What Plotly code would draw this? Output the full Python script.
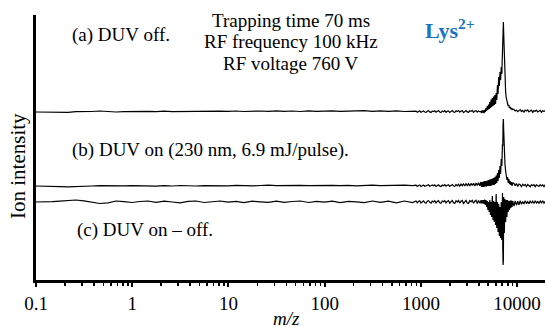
import plotly.graph_objects as go

# ---------------- data ----------------
# m/z sampling points (log axis)
mz_values = [
    # low m/z region
    0.1, 0.12, 0.147, 0.177, 0.215, 0.26, 0.315, 0.38, 0.46, 0.56,
    0.68, 0.82, 1.0, 1.2, 1.46, 1.77, 2.15, 2.6, 3.15, 3.8,
    4.6, 5.6, 6.8, 8.2, 9.9, 12, 14.5, 17.7, 21.4, 26,
    31.5, 38, 46, 56, 68, 82, 99, 120, 145, 176,
    213, 258, 313, 379, 460, 557, 675, 818,
    # mid region
    890, 917, 945, 974, 1003, 1034, 1065, 1097, 1131, 1165,
    1200, 1237, 1274, 1313, 1353, 1394, 1436, 1480, 1525, 1571,
    1619, 1668, 1719, 1771, 1825, 1880, 1937, 1996, 2057, 2119,
    2184, 2250, 2318, 2389, 2461, 2536, 2613, 2693, 2774, 2859,
    2946, 3035, 3127, 3222, 3320, 3421, 3525, 3632, 3743, 3856,
    3974, 4095,
    # Lys2+ peak region
    4200, 4270, 4330, 4400, 4470, 4540, 4610, 4680, 4750, 4820,
    4900, 4970, 5050, 5130, 5210, 5290, 5370, 5450, 5530, 5620,
    5700, 5790, 5880, 5970, 6060, 6150, 6250, 6340, 6440, 6540,
    6640, 6740, 6840, 6940, 7050, 7100, 7150, 7200, 7260, 7370,
    7480, 7600, 7720, 7840, 7960, 8080, 8210, 8340, 8470, 8600,
    8730, 8870, 9000,
    # tail
    9274, 9556, 9847, 10146, 10455, 10773, 11100, 11438, 11786, 12144,
    12513, 12894, 13286, 13690, 14106, 14535, 14977, 15433, 15902, 16386,
    16884, 17397, 17926, 18471, 19033, 19612, 20208,
]

# (a) DUV off
spec_a = [
    0, -0.2, 0.2, 0, -0.3, 0.3, 0.2, 0.5, 1, 0.3,
    0, 0.3, 0.5, 0.2, 0.6, 0.3, 0.8, 0.4, 0.5, 0.9,
    0.4, 0.7, 0.5, 0.9, 0.6, 1, 0.5, 0.8, 1, 0.6,
    1.1, 0.7, 1, 0.5, 1.2, 0.7, 0.9, 1.2, 0.6, 1,
    0.8, 1.3, 0.7, 1.1, 0.6, 1.2, 0.5, 1.1,
    0.9, -0.2, 0.6, 1.2, -0.3, 0.5, 1.1, 0, -0.4, 0.8,
    1.3, 0.1, -0.5, 0.9, 0.4, 1.2, -0.2, 0.7, 1.4, 0,
    -0.6, 1, 0.3, 1.3, -0.3, 0.8, 1.1, -0.5, 0.6, 1.4,
    0, -0.4, 1.2, 0.5, 1.5, -0.2, 0.9, 1.3, -0.6, 0.7,
    1.5, 0.1, -0.4, 1.2, 0.6, 1.6, -0.3, 1, 1.4, -0.2,
    1.1, 0.3,
    0.5, -1, 1.5, -0.5, 1.5, -1, 2, 0, 4, 1,
    6, 2, 7.5, 3, 10, 4, 12.5, 5, 14, 6,
    15.5, 7, 17, 8, 19, 12, 27, 18, 35, 26,
    40, 32, 45, 38, 62, 55, 88, 90, 78, 50,
    28, 20, 14, 10, 9, 6, 7, 4, 5, 3,
    4, 2, 3,
    2.5, 1, 2, 0.3, 1.8, 2.4, 0.5, 1.6, -0.2, 1.9,
    1, 2.1, 0.2, 1.5, 1.9, -0.3, 1.4, 0.8, 1.8, 0,
    1.3, 1.7, -0.2, 1.2, 0.6, 1.5, 0.2,
]

# (b) DUV on (230 nm, 6.9 mJ/pulse)
spec_b = [
    0, 0, -0.3, -0.6, -0.8, -0.3, 0.2, 0, 0.3, 0.1,
    -0.2, 0.2, 0.4, 0, 0.3, -0.2, 0.4, 0, 0.5, 0.2,
    0, 0.4, 0.1, 0.5, 0.2, 0.6, 0.3, 0.1, 0.5, 0.8,
    0.3, 0.6, 0.2, 0.7, 0.3, 0.5, 0, 0.6, 0.3, 0.7,
    0.2, 0.5, 0.9, 0.4, 0.6, 0.2, 0.8, 0.4,
    0.8, -0.3, 0.5, 1.1, -0.4, 0.6, 1, -0.2, 0.3, 0.9,
    1.2, -0.3, 0.4, 1, 0.2, 1.1, -0.4, 0.7, 1.2, -0.1,
    -0.5, 0.9, 0.3, 1.3, -0.2, 0.8, 1.2, -0.4, 0.6, 1.4,
    0, -0.3, 1.5, 0.2, 1.7, -0.2, 1.9, 0.3, 2.1, 0,
    2.3, 0.4, 2.4, 0.1, 2.6, 0.5, 2.8, 0, 3, 0.4,
    3.3, 0.2,
    4, -1, 4, -1, 4.5, -1, 5, -0.5, 5, -0.5,
    5.5, 0, 6, 0, 6.5, 0, 7, 0.5, 7.5, 1,
    8, 1, 9, 2, 10.5, 3, 13, 5, 16, 8,
    20, 12, 27, 20, 42, 40, 62, 67, 55, 32,
    22, 15, 12, 6, 9, 3, 7, 2, 5, 1,
    4, 0, 3,
    2.8, 0.2, 2.4, -0.4, 2, 1.2, -0.6, 1.8, 0.4, 1.6,
    -0.5, 1.5, 0.8, -0.7, 1.4, 0.2, 1.3, -0.6, 1.2, 0.5,
    -0.4, 1.3, 0, 1.1, -0.6, 1.2, 0,
]

# (c) DUV on - off
spec_c = [
    0, 0, 0.3, 0.8, 1.5, 2, 1.2, -0.5, -1.5, -0.8,
    1, 0.3, -0.5, 0.5, 1, -0.3, 0.8, 0, -0.8, 0.6,
    1, -0.5, 0.4, 1, -0.2, 0.6, -0.6, 0.8, 0.2, -0.4,
    0.9, -0.3, 0.5, 1, -0.5, 0.7, -0.2, 0.9, -0.6, 0.6,
    0.2, -0.7, 1, -0.4, 0.8, -0.8, 1, -0.6,
    1, -0.8, 0.4, 1.2, -1, 0.2, 1.1, -0.6, -1.2, 0.8,
    1.3, -0.4, -1.1, 0.9, 0.1, 1.2, -1, 0.5, 1.4, -0.7,
    -1.3, 1, 0.2, 1.3, -0.9, 0.6, 1.4, -1.2, 0.3, 1.5,
    -0.8, -1.4, 1.3, 0, 1.6, -1.1, 0.7, 1.5, -1.5, 0.4,
    1.6, -1, -1.5, 1.4, 0.2, 1.7, -1.3, 0.8, 1.8, -1.6,
    1.5, -1.2,
    1.5, -1.5, 2, -1.5, 2, -2, 2.5, -3, 2, -5,
    1, -8, 0, -10, 2, -13, 0, -15, 6, -18,
    1, -20, 0, -23, 8, -26, 0, -30, -2, -34,
    -5, -36, 0, -38, 9, -46, -63, -58, 5, -31,
    3, -20, 2, -15, 2, -10, 1, -8, 1.5, -6,
    1.5, -5, 1,
    -4, 1, -3.2, 0.8, -2.8, 1.2, -2.2, 0.6, -2, 1.3,
    -1.6, 0.4, -1.8, 1.2, -1.2, 0.8, -1.5, 1.3, -1, 0.5,
    -1.4, 1.1, -0.8, 1.2, -1.2, 0.6, -0.9,
]

# vertical stacking offsets of the three spectra
offsets = {"a": 168, "b": 94, "c": 78}

tick_values = [0.1, 1, 10, 100, 1000, 10000]
tick_labels = ["0.1", "1", "10", "100", "1000", "10000"]

# ---------------- figure ----------------
W, H = 545, 327
ML, MR, MT, MB = 36, 0, 15, 47
FONT = "Liberation Serif"

fig = go.Figure()
for key, spec in (("a", spec_a), ("b", spec_b), ("c", spec_c)):
    fig.add_trace(go.Scatter(
        x=mz_values,
        y=[offsets[key] + v for v in spec],
        mode="lines",
        line=dict(color="black", width=1.2),
        showlegend=False,
        hoverinfo="skip",
    ))

def pxx(px):
    return (px - ML) / (W - ML - MR)

def pxy(py):
    return (H - MB - py) / (H - MT - MB)

def note(text, px, py, size=19, xanchor="left", color="black", **kw):
    fig.add_annotation(
        text=text, x=pxx(px), y=pxy(py), xref="paper", yref="paper",
        xanchor=xanchor, yanchor="middle", showarrow=False,
        font=dict(family=FONT, size=size, color=color), **kw)

note("(a) DUV off.", 70, 35)
note("Trapping time 70 ms", 291, 20, xanchor="center")
note("RF frequency 100 kHz", 291, 42, xanchor="center")
note("RF voltage 760 V", 291, 64, xanchor="center")
note("<b>Lys<sup>2+</sup></b>", 423, 29, size=22, color="#1a74c2")
note("(b) DUV on (230 nm, 6.9 mJ/pulse).", 70, 150)
note("(c) DUV on \u2013 off.", 75, 230)
note("<i>m/z</i>", 286, 318, xanchor="center")
note("Ion intensity", 18, 166, size=21, xanchor="center", textangle=-90)

fig.update_layout(
    width=W, height=H,
    margin=dict(l=ML, r=MR, t=MT, b=MB),
    paper_bgcolor="white", plot_bgcolor="white",
    font=dict(family=FONT, size=19, color="black"),
    hovermode=False,
    xaxis=dict(
        type="log", range=[-1, 4.29],
        tickmode="array", tickvals=tick_values, ticktext=tick_labels,
        ticks="outside", ticklen=4, tickwidth=2, tickcolor="black",
        minor=dict(ticks="outside", ticklen=3, tickwidth=1.5,
                   tickcolor="black", dtick="D1", showgrid=False),
        showline=True, linewidth=3, linecolor="black",
        showgrid=False, zeroline=False,
        tickfont=dict(family=FONT, size=19, color="black"),
    ),
    yaxis=dict(
        range=[0, H - MT - MB],
        showline=True, linewidth=3, linecolor="black",
        showticklabels=False, ticks="", showgrid=False, zeroline=False,
    ),
)

fig.write_html(
    "out.html",
    config={"displayModeBar": False, "staticPlot": True},
    post_script="document.body.style.margin='0px';document.body.style.overflow='hidden';",
)
